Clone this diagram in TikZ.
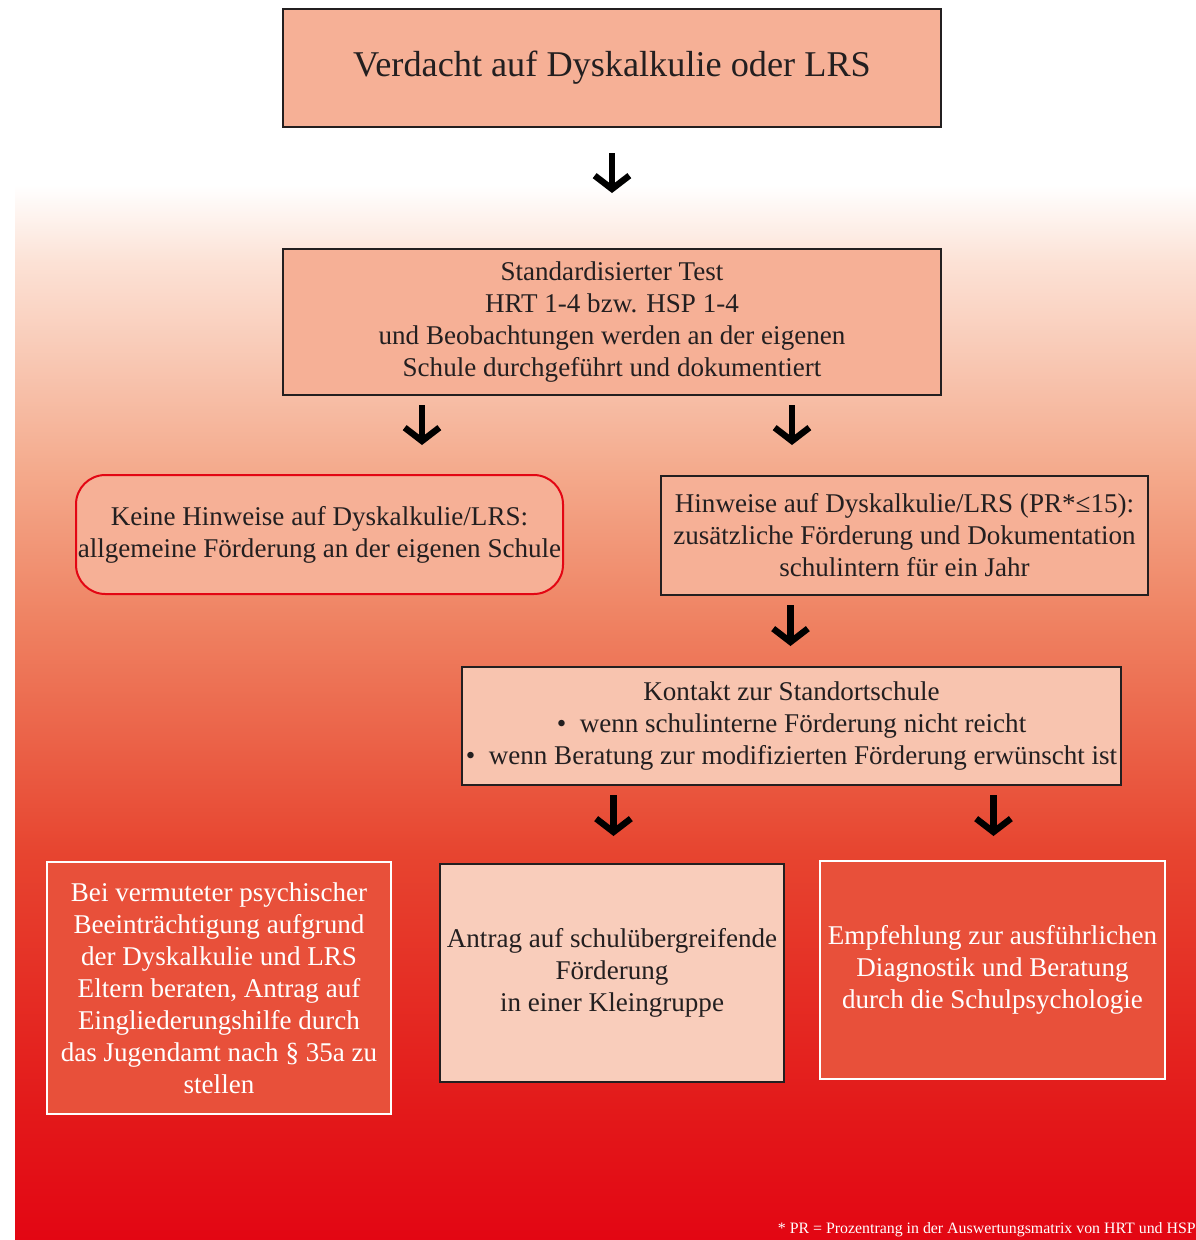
\documentclass[tikz,border=0pt]{standalone}
\usepackage{fontspec}
\setmainfont{Liberation Serif}
\definecolor{BoxSalmon}{RGB}{246,176,150}
\definecolor{BoxPale}{RGB}{248,196,175}
\definecolor{BoxPaler}{RGB}{249,205,187}
\definecolor{BoxRed}{RGB}{232,80,58}
\definecolor{SignalRed}{RGB}{227,6,19}
\definecolor{InkBlack}{RGB}{35,31,32}
\definecolor{BgA}{RGB}{252,226,214}
\definecolor{BgB}{RGB}{244,170,140}
\definecolor{BgC}{RGB}{239,130,98}
\definecolor{BgD}{RGB}{231,69,48}
\definecolor{BgE}{RGB}{227,25,26}
\usepackage{tikz}
\usetikzlibrary{arrows.meta, positioning, calc}

\begin{document}
\begin{tikzpicture}[x=0.75pt, y=-0.75pt,
        box/.style={rectangle, draw=InkBlack, line width=1.5pt, fill=BoxSalmon, text=InkBlack, align=center, inner sep=0pt, font=\fontsize{20.3}{24}\selectfont},
        roundbox/.style={box, draw=SignalRed, rounded corners=22pt},
        redbox/.style={box, draw=white, fill=BoxRed, text=white},
        bigarrow/.style={line width=4.8pt, draw=black, -{Straight Barb[length=10pt, width=26pt]}}
    ]
        \useasboundingbox (0,0) rectangle (1196,1240);
        \shade[top color=white, bottom color=BgA] (15,185) rectangle (1196,261);
        \shade[top color=BgA, bottom color=BgB] (15,260) rectangle (1196,471);
        \shade[top color=BgB, bottom color=BgC] (15,470) rectangle (1196,621);
        \shade[top color=BgC, bottom color=BgD] (15,620) rectangle (1196,851);
        \shade[top color=BgD, bottom color=BgE] (15,850) rectangle (1196,1111);
        \shade[top color=BgE, bottom color=SignalRed] (15,1110) rectangle (1196,1240);

        \node[box, minimum width=493.5pt, minimum height=88.5pt, font=\fontsize{27.2}{30}\selectfont] (suspicion) at (612,68) {Verdacht auf Dyskalkulie oder LRS};
        \node[box, minimum width=493.5pt, minimum height=109.5pt] (test) at (612,322) {Standardisierter Test\\HRT 1-4 bzw. HSP 1-4\\und Beobachtungen werden an der eigenen\\Schule durchgeführt und dokumentiert};
        \node[roundbox, minimum width=365.25pt, minimum height=89.25pt] (nohint) at (319.5,534.5) {Keine Hinweise auf Dyskalkulie/LRS:\\allgemeine Förderung an der eigenen Schule};
        \node[box, minimum width=365.25pt, minimum height=89.25pt] (hint) at (904.5,535.5) {Hinweise auf Dyskalkulie/LRS (PR*≤15):\\zusätzliche Förderung und Dokumentation\\schulintern für ein Jahr};
        \node[box, fill=BoxPale, minimum width=494.25pt, minimum height=88.5pt] (contact) at (791.5,726) {Kontakt zur Standortschule\\•\enspace wenn schulinterne Förderung nicht reicht\\•\enspace wenn Beratung zur modifizierten Förderung erwünscht ist};
        \node[redbox, minimum width=258pt, minimum height=189pt] (parents) at (219,988) {Bei vermuteter psychischer\\Beeinträchtigung aufgrund\\der Dyskalkulie und LRS\\Eltern beraten, Antrag auf\\Eingliederungshilfe durch\\das Jugendamt nach § 35a zu\\stellen};
        \node[box, fill=BoxPaler, minimum width=258pt, minimum height=163.5pt] (group) at (612,973) {Antrag auf schulübergreifende\\Förderung\\in einer Kleingruppe};
        \node[redbox, minimum width=258.75pt, minimum height=163.5pt] (psych) at (992.5,970) {Empfehlung zur ausführlichen\\Diagnostik und Beratung\\durch die Schulpsychologie};
        \node[anchor=base east, text=white, inner sep=0pt, font=\fontsize{11.9}{13}\selectfont] (note) at (1196,1233) {* PR = Prozentrang in der Auswertungsmatrix von HRT und HSP};

        \draw[bigarrow] ($(suspicion.south)+(0,25)$) -- ++(0,40);
        \draw[bigarrow] ($(test.south)+(-190,9)$) -- ++(0,40);
        \draw[bigarrow] ($(test.south)+(180,9)$) -- ++(0,40);
        \draw[bigarrow] ($(hint.south)+(-114,9)$) -- ++(0,41);
        \draw[bigarrow] ($(contact.south)+(-178,9)$) -- ++(0,41);
        \draw[bigarrow] ($(contact.south)+(202,9)$) -- ++(0,41);
    \end{tikzpicture}
\end{document}
